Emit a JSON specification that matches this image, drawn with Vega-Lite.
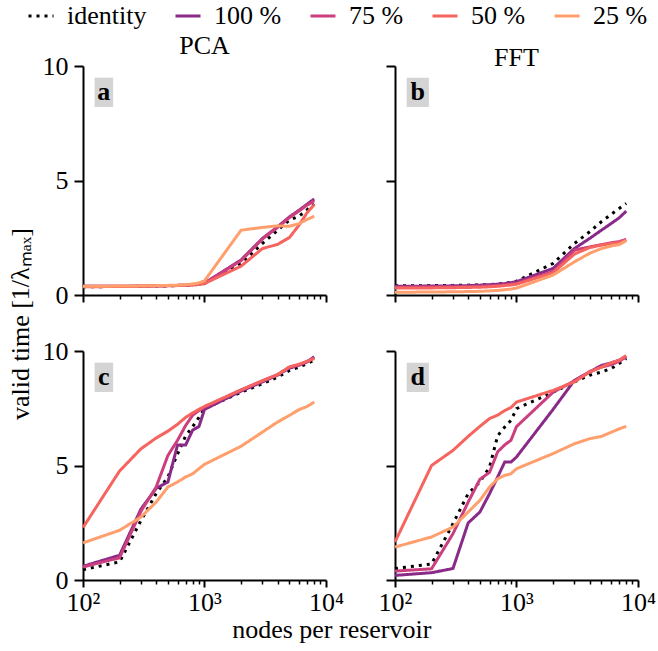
{
  "$schema": "https://vega.github.io/schema/vega-lite/v6.json",
  "background": "white",
  "padding": {"left": 7, "top": 2, "right": 5, "bottom": 4},
  "data": {"values": [
    {"p":"a","n":100,"identity":0.36,"100 %":0.38,"75 %":0.38,"50 %":0.36,"25 %":0.38},
    {"p":"a","n":200,"identity":0.37,"100 %":0.38,"75 %":0.38,"50 %":0.37,"25 %":0.39},
    {"p":"a","n":300,"identity":0.38,"100 %":0.39,"75 %":0.39,"50 %":0.38,"25 %":0.40},
    {"p":"a","n":400,"identity":0.39,"100 %":0.40,"75 %":0.40,"50 %":0.39,"25 %":0.41},
    {"p":"a","n":500,"identity":0.40,"100 %":0.41,"75 %":0.41,"50 %":0.40,"25 %":0.42},
    {"p":"a","n":600,"identity":0.41,"100 %":0.42,"75 %":0.42,"50 %":0.41,"25 %":0.43},
    {"p":"a","n":700,"identity":0.42,"100 %":0.43,"75 %":0.43,"50 %":0.42,"25 %":0.45},
    {"p":"a","n":800,"identity":0.44,"100 %":0.45,"75 %":0.45,"50 %":0.44,"25 %":0.48},
    {"p":"a","n":900,"identity":0.46,"100 %":0.47,"75 %":0.47,"50 %":0.46,"25 %":0.53},
    {"p":"a","n":1000,"identity":0.50,"100 %":0.52,"75 %":0.52,"50 %":0.50,"25 %":0.62},
    {"p":"a","n":2000,"identity":1.38,"100 %":1.53,"75 %":1.50,"50 %":1.26,"25 %":2.83},
    {"p":"a","n":3000,"identity":2.25,"100 %":2.47,"75 %":2.45,"50 %":2.03,"25 %":2.95},
    {"p":"a","n":4000,"identity":2.83,"100 %":2.98,"75 %":2.95,"50 %":2.21,"25 %":3.02},
    {"p":"a","n":5000,"identity":3.27,"100 %":3.41,"75 %":3.38,"50 %":2.51,"25 %":3.00},
    {"p":"a","n":6000,"identity":3.44,"100 %":3.70,"75 %":3.67,"50 %":3.05,"25 %":3.12},
    {"p":"a","n":7000,"identity":3.73,"100 %":3.97,"75 %":3.93,"50 %":3.60,"25 %":3.30},
    {"p":"a","n":8000,"identity":3.97,"100 %":4.19,"75 %":4.11,"50 %":3.95,"25 %":3.44},
    {"p":"b","n":100,"identity":0.40,"100 %":0.38,"75 %":0.34,"50 %":0.30,"25 %":0.12},
    {"p":"b","n":200,"identity":0.41,"100 %":0.39,"75 %":0.35,"50 %":0.31,"25 %":0.13},
    {"p":"b","n":300,"identity":0.42,"100 %":0.40,"75 %":0.36,"50 %":0.32,"25 %":0.14},
    {"p":"b","n":400,"identity":0.43,"100 %":0.41,"75 %":0.37,"50 %":0.33,"25 %":0.15},
    {"p":"b","n":500,"identity":0.44,"100 %":0.43,"75 %":0.38,"50 %":0.34,"25 %":0.16},
    {"p":"b","n":600,"identity":0.46,"100 %":0.45,"75 %":0.40,"50 %":0.36,"25 %":0.18},
    {"p":"b","n":700,"identity":0.48,"100 %":0.47,"75 %":0.42,"50 %":0.38,"25 %":0.20},
    {"p":"b","n":800,"identity":0.51,"100 %":0.50,"75 %":0.45,"50 %":0.41,"25 %":0.23},
    {"p":"b","n":900,"identity":0.55,"100 %":0.54,"75 %":0.48,"50 %":0.44,"25 %":0.26},
    {"p":"b","n":1000,"identity":0.60,"100 %":0.58,"75 %":0.51,"50 %":0.47,"25 %":0.30},
    {"p":"b","n":2000,"identity":1.38,"100 %":1.16,"75 %":1.02,"50 %":0.97,"25 %":0.87},
    {"p":"b","n":3000,"identity":2.25,"100 %":2.03,"75 %":1.96,"50 %":1.79,"25 %":1.45},
    {"p":"b","n":4000,"identity":2.76,"100 %":2.47,"75 %":2.10,"50 %":2.07,"25 %":1.82},
    {"p":"b","n":5000,"identity":3.20,"100 %":2.83,"75 %":2.20,"50 %":2.18,"25 %":2.03},
    {"p":"b","n":6000,"identity":3.52,"100 %":3.12,"75 %":2.28,"50 %":2.25,"25 %":2.14},
    {"p":"b","n":7000,"identity":3.78,"100 %":3.37,"75 %":2.33,"50 %":2.28,"25 %":2.20},
    {"p":"b","n":8000,"identity":4.00,"100 %":3.66,"75 %":2.43,"50 %":2.40,"25 %":2.37},
    {"p":"c","n":100,"identity":0.45,"100 %":0.60,"75 %":0.57,"50 %":2.29,"25 %":1.62},
    {"p":"c","n":200,"identity":0.79,"100 %":1.08,"75 %":0.97,"50 %":4.76,"25 %":2.17},
    {"p":"c","n":300,"identity":2.60,"100 %":3.10,"75 %":3.00,"50 %":5.73,"25 %":2.75},
    {"p":"c","n":400,"identity":3.77,"100 %":4.00,"75 %":4.06,"50 %":6.20,"25 %":3.40},
    {"p":"c","n":500,"identity":4.50,"100 %":4.28,"75 %":5.44,"50 %":6.50,"25 %":4.06},
    {"p":"c","n":600,"identity":5.50,"100 %":5.90,"75 %":6.10,"50 %":6.80,"25 %":4.28},
    {"p":"c","n":700,"identity":6.30,"100 %":5.90,"75 %":6.75,"50 %":7.10,"25 %":4.50},
    {"p":"c","n":800,"identity":6.70,"100 %":6.55,"75 %":7.20,"50 %":7.30,"25 %":4.64},
    {"p":"c","n":900,"identity":7.10,"100 %":6.70,"75 %":7.40,"50 %":7.45,"25 %":4.86},
    {"p":"c","n":1000,"identity":7.48,"100 %":7.45,"75 %":7.55,"50 %":7.58,"25 %":5.05},
    {"p":"c","n":2000,"identity":8.20,"100 %":8.25,"75 %":8.30,"50 %":8.30,"25 %":5.84},
    {"p":"c","n":3000,"identity":8.57,"100 %":8.65,"75 %":8.70,"50 %":8.70,"25 %":6.46},
    {"p":"c","n":4000,"identity":8.86,"100 %":8.95,"75 %":8.97,"50 %":8.97,"25 %":6.90},
    {"p":"c","n":5000,"identity":9.15,"100 %":9.25,"75 %":9.30,"50 %":9.30,"25 %":7.19},
    {"p":"c","n":6000,"identity":9.30,"100 %":9.38,"75 %":9.40,"50 %":9.42,"25 %":7.44},
    {"p":"c","n":7000,"identity":9.45,"100 %":9.52,"75 %":9.55,"50 %":9.55,"25 %":7.58},
    {"p":"c","n":8000,"identity":9.60,"100 %":9.75,"75 %":9.70,"50 %":9.67,"25 %":7.77},
    {"p":"d","n":100,"identity":0.50,"100 %":0.20,"75 %":0.39,"50 %":1.66,"25 %":1.44},
    {"p":"d","n":200,"identity":0.70,"100 %":0.32,"75 %":0.49,"50 %":5.00,"25 %":1.88},
    {"p":"d","n":300,"identity":2.46,"100 %":0.50,"75 %":2.02,"50 %":5.66,"25 %":2.31},
    {"p":"d","n":400,"identity":3.77,"100 %":2.49,"75 %":3.40,"50 %":6.27,"25 %":2.97},
    {"p":"d","n":500,"identity":4.28,"100 %":2.97,"75 %":4.40,"50 %":6.71,"25 %":3.48},
    {"p":"d","n":600,"identity":4.93,"100 %":3.77,"75 %":4.70,"50 %":7.05,"25 %":4.06},
    {"p":"d","n":700,"identity":6.30,"100 %":4.50,"75 %":5.60,"50 %":7.20,"25 %":4.42},
    {"p":"d","n":800,"identity":6.68,"100 %":5.15,"75 %":5.90,"50 %":7.40,"25 %":4.57},
    {"p":"d","n":900,"identity":6.97,"100 %":5.15,"75 %":6.10,"50 %":7.53,"25 %":4.64},
    {"p":"d","n":1000,"identity":7.48,"100 %":5.37,"75 %":6.70,"50 %":7.77,"25 %":4.86},
    {"p":"d","n":2000,"identity":8.20,"100 %":7.45,"75 %":8.20,"50 %":8.28,"25 %":5.52},
    {"p":"d","n":3000,"identity":8.65,"100 %":8.72,"75 %":8.70,"50 %":8.65,"25 %":5.95},
    {"p":"d","n":4000,"identity":8.94,"100 %":9.08,"75 %":9.10,"50 %":9.08,"25 %":6.17},
    {"p":"d","n":5000,"identity":9.08,"100 %":9.37,"75 %":9.30,"50 %":9.30,"25 %":6.27},
    {"p":"d","n":6000,"identity":9.23,"100 %":9.48,"75 %":9.40,"50 %":9.48,"25 %":6.45},
    {"p":"d","n":7000,"identity":9.45,"100 %":9.60,"75 %":9.55,"50 %":9.60,"25 %":6.60},
    {"p":"d","n":8000,"identity":9.67,"100 %":9.74,"75 %":9.75,"50 %":9.80,"25 %":6.71}
  ]},
  "transform": [{"fold": ["identity", "100 %", "75 %", "50 %", "25 %"], "as": ["s", "v"]}],
  "title": {"text": "nodes per reservoir", "orient": "bottom", "anchor": "middle", "offset": 2},
  "vconcat": [{
    "title": {"text": "valid time [1/λₘₐₓ]", "orient": "left", "anchor": "middle", "offset": 8},
    "columns": 2,
    "spacing": {"row": 56, "column": 69},
    "bounds": "flush",
    "concat": [
      {
        "width": 243, "height": 229,
        "title": {"text": "PCA", "offset": -6},
        "layer": [
          {
            "transform": [{"filter": "datum.p == 'a'"}],
            "mark": {"type": "line", "strokeWidth": 3},
            "encoding": {
              "x": {"field": "n", "type": "quantitative", "scale": {"type": "log", "domain": [100, 10000], "nice": false},
                "axis": {"title": null, "labels": false, "values": [100,200,300,400,500,600,700,800,900,1000,2000,3000,4000,5000,6000,7000,8000,9000,10000],
                  "tickSize": {"condition": {"test": "indexof([100,1000,10000], datum.value) >= 0", "value": 7}, "value": 4},
                  "tickWidth": {"condition": {"test": "indexof([100,1000,10000], datum.value) >= 0", "value": 2}, "value": 1.5}}},
              "y": {"field": "v", "type": "quantitative", "scale": {"domain": [0, 10], "nice": false},
                "axis": {"title": null, "values": [0, 5, 10], "tickSize": 9, "tickWidth": 2, "labelPadding": 6}},
              "color": {"field": "s", "type": "nominal", "title": null, "sort": null,
                "scale": {"domain": ["identity", "100 %", "75 %", "50 %", "25 %"], "range": ["#000000", "#8a2a88", "#cc3f7e", "#f6645f", "#fe9f6d"]}},
              "strokeDash": {"field": "s", "type": "nominal", "title": null, "sort": null,
                "scale": {"domain": ["identity", "100 %", "75 %", "50 %", "25 %"], "range": [[3, 5], [1, 0], [1, 0], [1, 0], [1, 0]]}}
            }
          },
          {
            "data": {"values": [{"lab": "a"}]},
            "mark": {"type": "rect", "color": "#d4d4d4"},
            "encoding": {"x": {"datum": 124.6, "type": "quantitative"}, "x2": {"datum": 177}, "y": {"datum": 9.49, "type": "quantitative"}, "y2": {"datum": 8.21}}
          },
          {
            "data": {"values": [{"lab": "a"}]},
            "mark": {"type": "text", "font": "Liberation Serif", "fontSize": 26, "fontWeight": "bold", "align": "center", "baseline": "middle", "color": "black"},
            "encoding": {"x": {"datum": 148.3, "type": "quantitative"}, "y": {"datum": 8.85, "type": "quantitative"}, "text": {"field": "lab"}}
          }
        ]
      },
      {
        "width": 243, "height": 229,
        "title": {"text": "FFT", "offset": -6},
        "layer": [
          {
            "transform": [{"filter": "datum.p == 'b'"}],
            "mark": {"type": "line", "strokeWidth": 3},
            "encoding": {
              "x": {"field": "n", "type": "quantitative", "scale": {"type": "log", "domain": [100, 10000], "nice": false},
                "axis": {"title": null, "labels": false, "values": [100,200,300,400,500,600,700,800,900,1000,2000,3000,4000,5000,6000,7000,8000,9000,10000],
                  "tickSize": {"condition": {"test": "indexof([100,1000,10000], datum.value) >= 0", "value": 7}, "value": 4},
                  "tickWidth": {"condition": {"test": "indexof([100,1000,10000], datum.value) >= 0", "value": 2}, "value": 1.5}}},
              "y": {"field": "v", "type": "quantitative", "scale": {"domain": [0, 10], "nice": false},
                "axis": {"title": null, "values": [0, 5, 10], "tickSize": 9, "tickWidth": 2, "labels": false}},
              "color": {"field": "s", "type": "nominal", "title": null, "sort": null,
                "scale": {"domain": ["identity", "100 %", "75 %", "50 %", "25 %"], "range": ["#000000", "#8a2a88", "#cc3f7e", "#f6645f", "#fe9f6d"]}},
              "strokeDash": {"field": "s", "type": "nominal", "title": null, "sort": null,
                "scale": {"domain": ["identity", "100 %", "75 %", "50 %", "25 %"], "range": [[3, 5], [1, 0], [1, 0], [1, 0], [1, 0]]}}
            }
          },
          {
            "data": {"values": [{"lab": "b"}]},
            "mark": {"type": "rect", "color": "#d4d4d4"},
            "encoding": {"x": {"datum": 124.8, "type": "quantitative"}, "x2": {"datum": 190}, "y": {"datum": 9.49, "type": "quantitative"}, "y2": {"datum": 8.21}}
          },
          {
            "data": {"values": [{"lab": "b"}]},
            "mark": {"type": "text", "font": "Liberation Serif", "fontSize": 26, "fontWeight": "bold", "align": "center", "baseline": "middle", "color": "black"},
            "encoding": {"x": {"datum": 154, "type": "quantitative"}, "y": {"datum": 8.85, "type": "quantitative"}, "text": {"field": "lab"}}
          }
        ]
      },
      {
        "width": 243, "height": 229,
        "layer": [
          {
            "transform": [{"filter": "datum.p == 'c'"}],
            "mark": {"type": "line", "strokeWidth": 3},
            "encoding": {
              "x": {"field": "n", "type": "quantitative", "scale": {"type": "log", "domain": [100, 10000], "nice": false},
                "axis": {"title": null, "labelOverlap": false, "labelFlush": false, "labelPadding": 2, "values": [100,200,300,400,500,600,700,800,900,1000,2000,3000,4000,5000,6000,7000,8000,9000,10000],
                  "labelExpr": "datum.value == 100 ? '10²' : datum.value == 1000 ? '10³' : datum.value == 10000 ? '10⁴' : ''",
                  "tickSize": {"condition": {"test": "indexof([100,1000,10000], datum.value) >= 0", "value": 7}, "value": 4},
                  "tickWidth": {"condition": {"test": "indexof([100,1000,10000], datum.value) >= 0", "value": 2}, "value": 1.5}}},
              "y": {"field": "v", "type": "quantitative", "scale": {"domain": [0, 10], "nice": false},
                "axis": {"title": null, "values": [0, 5, 10], "tickSize": 9, "tickWidth": 2, "labelPadding": 6}},
              "color": {"field": "s", "type": "nominal", "title": null, "sort": null,
                "scale": {"domain": ["identity", "100 %", "75 %", "50 %", "25 %"], "range": ["#000000", "#8a2a88", "#cc3f7e", "#f6645f", "#fe9f6d"]}},
              "strokeDash": {"field": "s", "type": "nominal", "title": null, "sort": null,
                "scale": {"domain": ["identity", "100 %", "75 %", "50 %", "25 %"], "range": [[3, 5], [1, 0], [1, 0], [1, 0], [1, 0]]}}
            }
          },
          {
            "data": {"values": [{"lab": "c"}]},
            "mark": {"type": "rect", "color": "#d4d4d4"},
            "encoding": {"x": {"datum": 124.6, "type": "quantitative"}, "x2": {"datum": 177}, "y": {"datum": 9.49, "type": "quantitative"}, "y2": {"datum": 8.21}}
          },
          {
            "data": {"values": [{"lab": "c"}]},
            "mark": {"type": "text", "font": "Liberation Serif", "fontSize": 26, "fontWeight": "bold", "align": "center", "baseline": "middle", "color": "black"},
            "encoding": {"x": {"datum": 148.3, "type": "quantitative"}, "y": {"datum": 8.85, "type": "quantitative"}, "text": {"field": "lab"}}
          }
        ]
      },
      {
        "width": 243, "height": 229,
        "layer": [
          {
            "transform": [{"filter": "datum.p == 'd'"}],
            "mark": {"type": "line", "strokeWidth": 3},
            "encoding": {
              "x": {"field": "n", "type": "quantitative", "scale": {"type": "log", "domain": [100, 10000], "nice": false},
                "axis": {"title": null, "labelOverlap": false, "labelFlush": false, "labelPadding": 2, "values": [100,200,300,400,500,600,700,800,900,1000,2000,3000,4000,5000,6000,7000,8000,9000,10000],
                  "labelExpr": "datum.value == 100 ? '10²' : datum.value == 1000 ? '10³' : datum.value == 10000 ? '10⁴' : ''",
                  "tickSize": {"condition": {"test": "indexof([100,1000,10000], datum.value) >= 0", "value": 7}, "value": 4},
                  "tickWidth": {"condition": {"test": "indexof([100,1000,10000], datum.value) >= 0", "value": 2}, "value": 1.5}}},
              "y": {"field": "v", "type": "quantitative", "scale": {"domain": [0, 10], "nice": false},
                "axis": {"title": null, "values": [0, 5, 10], "tickSize": 9, "tickWidth": 2, "labels": false}},
              "color": {"field": "s", "type": "nominal", "title": null, "sort": null,
                "scale": {"domain": ["identity", "100 %", "75 %", "50 %", "25 %"], "range": ["#000000", "#8a2a88", "#cc3f7e", "#f6645f", "#fe9f6d"]}},
              "strokeDash": {"field": "s", "type": "nominal", "title": null, "sort": null,
                "scale": {"domain": ["identity", "100 %", "75 %", "50 %", "25 %"], "range": [[3, 5], [1, 0], [1, 0], [1, 0], [1, 0]]}}
            }
          },
          {
            "data": {"values": [{"lab": "d"}]},
            "mark": {"type": "rect", "color": "#d4d4d4"},
            "encoding": {"x": {"datum": 124.8, "type": "quantitative"}, "x2": {"datum": 190}, "y": {"datum": 9.49, "type": "quantitative"}, "y2": {"datum": 8.21}}
          },
          {
            "data": {"values": [{"lab": "d"}]},
            "mark": {"type": "text", "font": "Liberation Serif", "fontSize": 26, "fontWeight": "bold", "align": "center", "baseline": "middle", "color": "black"},
            "encoding": {"x": {"datum": 154, "type": "quantitative"}, "y": {"datum": 8.85, "type": "quantitative"}, "text": {"field": "lab"}}
          }
        ]
      }
    ]
  }],
  "config": {
    "view": {"stroke": null},
    "font": "Liberation Serif",
    "axis": {"domainColor": "black", "domainWidth": 2, "tickColor": "black", "labelColor": "black", "labelFont": "Liberation Serif", "labelFontSize": 26, "grid": false},
    "title": {"font": "Liberation Serif", "fontSize": 26, "fontWeight": "normal", "color": "black"},
    "legend": {"orient": "none", "legendX": -56, "legendY": -64, "direction": "horizontal", "symbolType": "stroke", "symbolSize": 625, "symbolStrokeWidth": 3, "labelFont": "Liberation Serif", "labelFontSize": 26, "labelColor": "black", "labelOffset": 12, "columnPadding": 22, "padding": 0}
  }
}
